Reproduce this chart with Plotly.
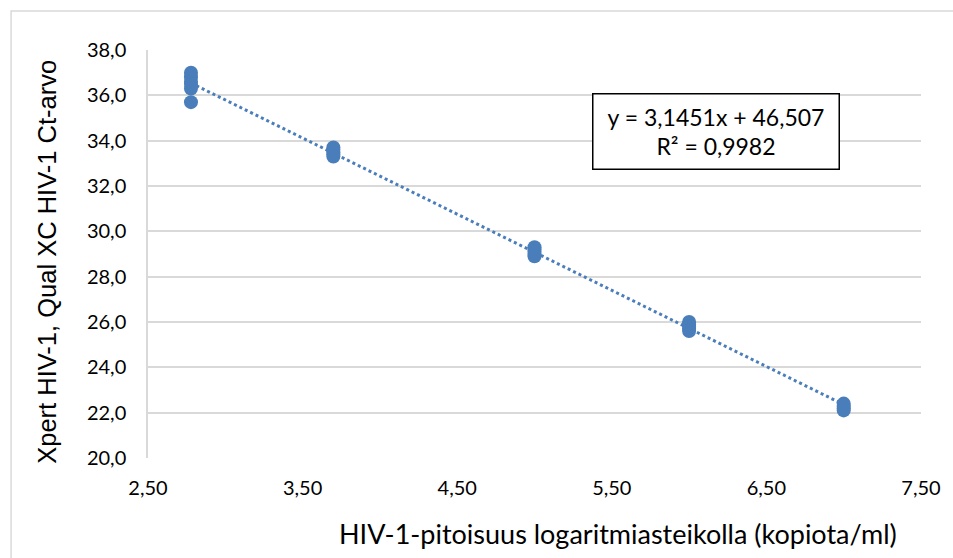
import numpy as np
import plotly.graph_objects as go

# Data (log10 copies/ml, Ct value)
log_conc = [2.778]*6 + [3.699]*5 + [5.0]*5 + [6.0]*5 + [7.0]*4
ct_values = [37.0, 36.8, 36.6, 36.5, 36.3, 35.7,
             33.7, 33.6, 33.5, 33.4, 33.3,
             29.3, 29.2, 29.1, 29.0, 28.9,
             26.0, 25.9, 25.8, 25.7, 25.6,
             22.4, 22.3, 22.2, 22.1]
eq_text = "y = 3,1451x + 46,507<br>R² = 0,9982"

x_title = "HIV-1-pitoisuus logaritmiasteikolla (kopiota/ml)"
y_title = "Xpert HIV-1, Qual XC HIV-1 Ct-arvo"

blue = "#4a7ebb"

slope, intercept = np.polyfit(log_conc, ct_values, 1)
xs = np.array([min(log_conc), max(log_conc)])
ys = slope * xs + intercept

fig = go.Figure()
fig.add_trace(go.Scatter(x=log_conc, y=ct_values, mode="markers",
                         marker=dict(color=blue, size=14), showlegend=False))
fig.add_trace(go.Scatter(x=xs, y=ys, mode="lines",
                         line=dict(color=blue, width=3, dash="dot"), showlegend=False))

W, H = 953, 558
ml, mr, mt, mb = 148, 26, 50, 100
pw, ph = W - ml - mr, H - mt - mb


def px(x):
    return (x - ml) / pw


def py(y):
    return 1 - (y - mt) / ph


fig.update_layout(
    width=W, height=H,
    margin=dict(l=ml, r=mr, t=mt, b=mb),
    paper_bgcolor="white", plot_bgcolor="white",
    separators=", ",
    xaxis=dict(range=[2.5, 7.5], dtick=1.0, tick0=2.5, tickformat=".2f",
               showgrid=False, zeroline=False, showline=False,
               ticks="", ticklabelstandoff=16,
               tickfont=dict(family="Lato", size=20, color="black")),
    yaxis=dict(range=[20, 38], dtick=2.0, tickformat=".1f",
               showgrid=True, gridcolor="#d9d9d9", gridwidth=1.5,
               zeroline=False, showline=True, linecolor="#d9d9d9", linewidth=1.5,
               ticks="", ticklabelstandoff=16,
               tickfont=dict(family="Lato", size=20, color="black")),
    annotations=[
        dict(xref="paper", yref="paper", x=px(720), y=py(131.5),
             xanchor="center", yanchor="middle",
             text=eq_text, showarrow=False, align="center",
             font=dict(family="Lato", size=23, color="black"),
             bordercolor="black", borderwidth=1.5, borderpad=4,
             bgcolor="white", width=237, height=66),
        dict(xref="paper", yref="paper", x=px(622), y=py(533),
             xanchor="center", yanchor="middle", showarrow=False,
             text=x_title, font=dict(family="Lato", size=27, color="black")),
        dict(xref="paper", yref="paper", x=px(46), y=py(262),
             xanchor="center", yanchor="middle", showarrow=False, textangle=-90,
             text=y_title, font=dict(family="Liberation Sans", size=25.5, color="black")),
    ],
    shapes=[dict(type="rect", xref="paper", yref="paper",
                 x0=px(10), x1=px(960), y0=py(565), y1=py(11),
                 line=dict(color="#d9d9d9", width=1.5), layer="below")],
)

fig.write_html("out.html")
